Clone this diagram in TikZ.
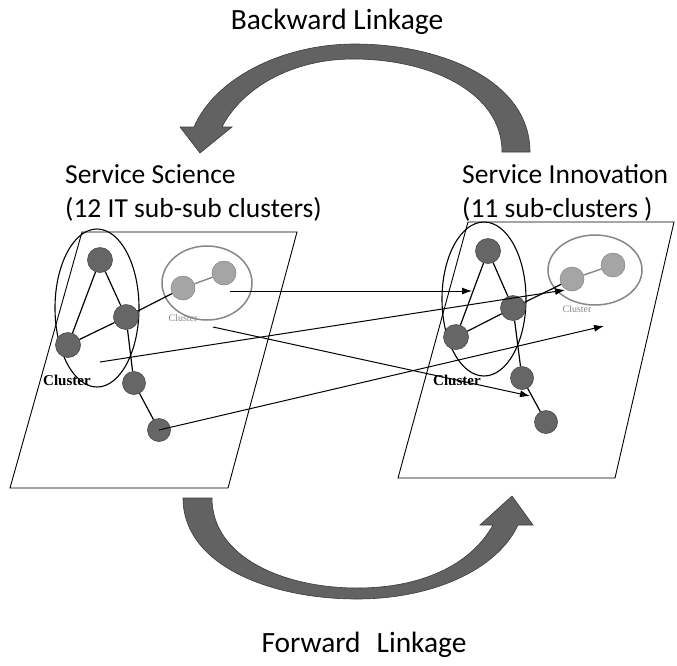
\documentclass[tikz,border=0pt]{standalone}
\usepackage{fontspec}
\setmainfont{Carlito}
\newfontfamily\clfont{Liberation Serif}
\usetikzlibrary{arrows.meta}
\definecolor{bigarrow}{RGB}{98,98,98}
\definecolor{darknode}{RGB}{102,102,102}
\definecolor{lightnode}{RGB}{165,165,165}
\definecolor{ringgray}{RGB}{135,135,135}
\tikzset{
  panel/.style={draw=black, line width=0.9pt, fill=white},
  bigring/.style={draw=black, line width=1.1pt},
  smallring/.style={draw=ringgray, line width=1.5pt},
  dnode/.style={circle, fill=darknode, draw=darknode!70!black, line width=0.6pt, inner sep=0pt, minimum size=25pt},
  lnode/.style={circle, fill=lightnode, draw=lightnode!80!black, line width=0.5pt, inner sep=0pt, minimum size=24pt},
  link/.style={draw=black, line width=1.2pt},
  lightlink/.style={draw=ringgray, line width=1.4pt},
  flow/.style={draw=black, line width=1pt, -{Latex[length=10pt,width=7pt]}},
  swoosh/.style={fill=bigarrow, draw=bigarrow!60!black, line width=0.6pt},
  title/.style={font=\fontsize{29.4}{31}\selectfont, inner sep=0pt},
  caption/.style={font=\fontsize{27.5}{34}\selectfont, inner sep=0pt, anchor=base west},
  cllabel/.style={font=\clfont\bfseries\fontsize{15}{15}\selectfont, inner sep=0pt, anchor=base west},
  smalllabel/.style={font=\clfont\fontsize{10}{10}\selectfont, text=ringgray, inner sep=0pt},
}
\begin{document}
\begin{tikzpicture}[x=1pt, y=-1pt]
\useasboundingbox (0,0) rectangle (677,665);

% headings
\node[title, anchor=base] (bl) at (337,29) {Backward Linkage};
\node[title, anchor=base] (fl) at (364,652) {Forward\hspace{16pt}Linkage};
\node[caption] (ss1) at (65,183) {Service Science};
\node[caption] (ss2) at (65,217) {(12 IT sub-sub clusters)};
\node[caption] (si1) at (462,183) {Service Innovation};
\node[caption] (si2) at (462,217) {(11 sub-clusters )};

% backward linkage arrow (right to left, over the top)
\path[swoosh] (530,152) .. controls (530,80) and (440,44) .. (355,44)
  .. controls (280,44) and (214,80) .. (194,127)
  -- (180,127) -- (200,153) -- (232,127) -- (222,127)
  .. controls (242,88) and (292,59) .. (353,59)
  .. controls (430,59) and (502,92) .. (502,152) -- cycle;

% forward linkage arrow (left to right, underneath)
\path[swoosh] (183,498) .. controls (183,565) and (270,599) .. (357,599)
  .. controls (432,599) and (497,570) .. (518,525)
  -- (533,525) -- (512,496) -- (480,525) -- (493,525)
  .. controls (470,566) and (420,588) .. (357,588)
  .. controls (285,588) and (212,558) .. (212,498) -- cycle;

% the two planes
\draw[panel] (82,232) -- (297,232) -- (228,488) -- (10,488) -- cycle;
\draw[panel] (468,222) -- (674,222) -- (615,478) -- (398,478) -- cycle;

% ---- left plane: Service Science ----
\draw[bigring] (97,308) ellipse [x radius=42, y radius=79];
\draw[smallring] (207,283) ellipse [x radius=45, y radius=37];
\node[dnode] (la) at (100,260) {};
\node[dnode] (lb) at (126,317) {};
\node[dnode] (lc) at (68,345) {};
\node[dnode, minimum size=23pt] (ld) at (134,383) {};
\node[dnode, minimum size=23pt] (le) at (159,430) {};
\node[lnode] (lf) at (183,288) {};
\node[lnode] (lg) at (224,273) {};
\draw[link] (la) -- (lb);
\draw[link] (la) -- (lc);
\draw[link] (lb) -- (lc);
\draw[link] (lb) -- (lf);
\draw[link] (lb) -- (ld);
\draw[link] (ld) -- (le);
\draw[lightlink] (lf) -- (lg);
\node[smalllabel] (lsl) at (183,318) {Cluster};
\node[cllabel] (lcl) at (43,385) {Cluster};

% ---- right plane: Service Innovation ----
\draw[bigring] (484,299) ellipse [x radius=42, y radius=77];
\draw[smallring] (595,270) ellipse [x radius=47, y radius=35];
\node[dnode] (ra) at (488,251) {};
\node[dnode] (rb) at (513,308) {};
\node[dnode] (rc) at (456,337) {};
\node[dnode, minimum size=23pt] (rd) at (522,378) {};
\node[dnode, minimum size=23pt] (re) at (546,422) {};
\node[lnode] (rf) at (572,279) {};
\node[lnode] (rg) at (613,265) {};
\draw[link] (ra) -- (rb);
\draw[link] (ra) -- (rc);
\draw[link] (rb) -- (rc);
\draw[link] (rb) -- (rf);
\draw[link] (rb) -- (rd);
\draw[link] (rd) -- (re);
\draw[lightlink] (rf) -- (rg);
\node[smalllabel] (rsl) at (577,309) {Cluster};
\node[cllabel] (rcl) at (433,385) {Cluster};

% cross links between the planes
\coordinate (s1) at (230,291);
\coordinate (t1) at (472,291);
\coordinate (s2) at (213,327);
\coordinate (t2) at (530,396);
\coordinate (s3) at (100,362);
\coordinate (t3) at (565,290);
\coordinate (t4) at (604,326);
\draw[flow] (s1) -- (t1);
\draw[flow] (s2) -- (t2);
\draw[flow] (s3) -- (t3);
\draw[flow] (le.center) -- (t4);
\end{tikzpicture}
\end{document}
